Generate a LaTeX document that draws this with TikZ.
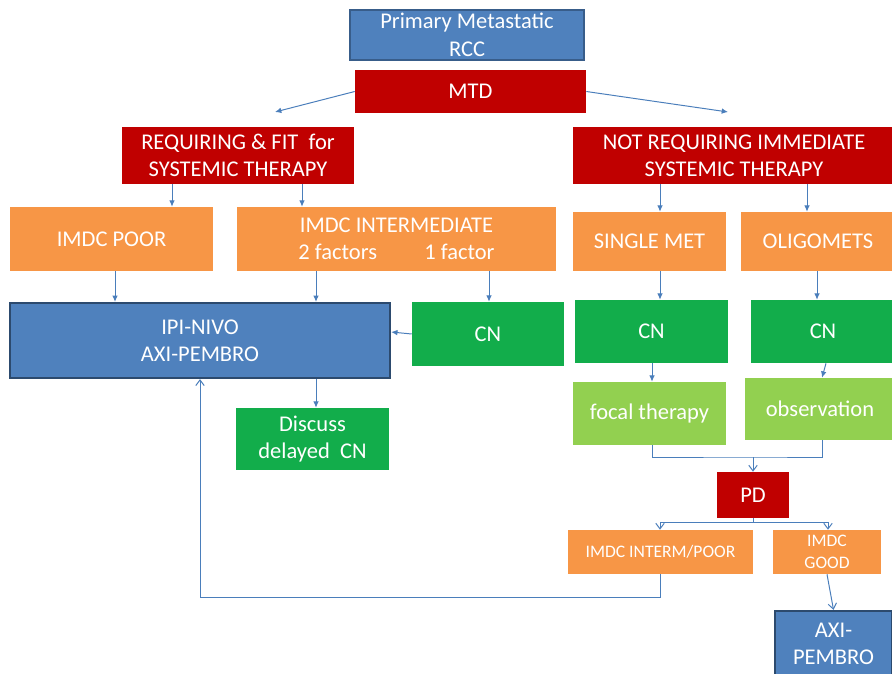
\documentclass[tikz,border=0pt]{standalone}
\usepackage{fontspec}
\setmainfont{Carlito}
\usetikzlibrary{arrows.meta}
\definecolor{boxblue}{HTML}{4F81BD}
\definecolor{edgeblue}{HTML}{385D8A}
\definecolor{darkedge}{HTML}{2C4A6E}
\definecolor{boxred}{HTML}{C00000}
\definecolor{boxorange}{HTML}{F79646}
\definecolor{boxgreen}{HTML}{12AD4B}
\definecolor{boxlime}{HTML}{92D050}
\definecolor{linkblue}{HTML}{4A7EBB}
\newcommand\px{0.025cm}
\tikzset{
  box/.style={text=white, align=center, inner sep=0pt, font=\fontsize{16}{19.5}\selectfont},
  smalltext/.style={font=\fontsize{12.5}{15.5}\selectfont},
  wh/.style 2 args={minimum width=#1*\px, minimum height=#2*\px},
  bluebox/.style={box, fill=boxblue, draw=edgeblue, line width=0.8pt},
  thickblue/.style={box, fill=boxblue, draw=darkedge, line width=1.6pt},
  redbox/.style={box, fill=boxred},
  orangebox/.style={box, fill=boxorange},
  greenbox/.style={box, fill=boxgreen},
  limebox/.style={box, fill=boxlime},
  arr/.style={draw=linkblue, line width=0.7pt, -{Latex[length=4.5pt,width=4pt,fill=linkblue]}},
  openarr/.style={draw=linkblue, line width=0.7pt, -{Straight Barb[length=4pt,width=6pt]}},
  link/.style={draw=linkblue, line width=0.7pt},
}
\begin{document}
\begin{tikzpicture}[x=0.025cm,y=-0.025cm]
  \fill[white] (0,0) rectangle (892,674);
  \useasboundingbox (0,0) rectangle (892,674);
  % top
  \node[bluebox, wh={234}{50}] (prim) at (467,35) {Primary Metastatic\\RCC};
  \node[redbox, wh={231}{43}] (mtd) at (470.5,91.5) {MTD};
  \coordinate (mtdl) at (275,112);
  \coordinate (mtdr) at (728,112);
  \node[redbox, wh={232}{57}] (req) at (238,155.5) {REQUIRING \& FIT\ \ for\\SYSTEMIC THERAPY};
  \node[redbox, wh={322}{57}] (notreq) at (734,155.5) {NOT REQUIRING IMMEDIATE\\SYSTEMIC THERAPY};
  % left branch
  \node[orangebox, wh={203}{64}] (poor) at (111.5,239) {IMDC POOR};
  \node[orangebox, wh={319}{64}] (inter) at (396.5,239) {IMDC INTERMEDIATE\\2 factors\hspace{2.1em}1 factor};
  \node[thickblue, wh={380}{75}] (ipi) at (200,340.5) {IPI-NIVO\\AXI-PEMBRO};
  \node[greenbox, wh={152}{64}] (cnl) at (488,334) {CN};
  \node[greenbox, wh={153}{62}] (disc) at (312.5,439) {Discuss\\delayed\ \ CN};
  % right branch
  \node[orangebox, wh={153}{59}] (single) at (649.5,241.5) {SINGLE MET};
  \node[orangebox, wh={154}{59}] (oligo) at (818,241.5) {OLIGOMETS};
  \node[greenbox, wh={153}{63}] (cns) at (651.5,331.5) {CN};
  \node[greenbox, wh={144}{63}] (cno) at (823,331.5) {CN};
  \node[limebox, wh={153}{63}] (focal) at (649.5,413.5) {focal therapy};
  \node[limebox, wh={150}{62}] (obs) at (820,409) {observation};
  \node[redbox, wh={72}{46}] (pd) at (753,495) {PD};
  \node[orangebox, smalltext, wh={185}{44}] (ip) at (660.5,552) {IMDC INTERM/POOR};
  \node[orangebox, smalltext, wh={108}{44}] (good) at (827,552) {IMDC\\GOOD};
  \node[thickblue, wh={117}{66}] (axi) at (833.5,644) {AXI-\\PEMBRO};
  \coordinate (jn) at (753,457);
  \coordinate (pj) at (753,522);
  \coordinate (fb) at (200,597);
  % connectors
  \draw[arr] (mtd.west) -- (mtdl);
  \draw[arr] (mtd.east) -- (mtdr);
  \draw[arr] (req.south -| 172,0) -- (poor.north -| 172,0);
  \draw[arr] (req.south -| 302,0) -- (inter.north -| 302,0);
  \draw[arr] (poor.south -| 115,0) -- (ipi.north -| 115,0);
  \draw[arr] (inter.south -| 316,0) -- (ipi.north -| 316,0);
  \draw[arr] (inter.south -| 489,0) -- (cnl.north -| 489,0);
  \draw[arr] (cnl.west) -- (ipi.east |- 0,332);
  \draw[arr] (ipi.south -| 316,0) -- (disc.north -| 316,0);
  \draw[arr] (notreq.south -| 660,0) -- (single.north -| 660,0);
  \draw[arr] (notreq.south -| 807,0) -- (oligo.north -| 807,0);
  \draw[arr] (single.south -| 660,0) -- (cns.north -| 660,0);
  \draw[arr] (oligo.south -| 817,0) -- (cno.north -| 817,0);
  \draw[arr] (cns.south -| 652,0) -- (focal.north -| 652,0);
  \draw[arr] (cno.south -| 826,0) -- (obs.north -| 822,0);
  \draw[link] (focal.south -| 652,0) |- (jn) -| (obs.south -| 822,0);
  \draw[openarr] (jn) -- (pd.north);
  \draw[link] (pd.south) -- (pj);
  \draw[openarr] (pj) -| (ip.north -| 660,0);
  \draw[openarr] (pj) -| (good.north -| 828,0);
  \draw[openarr] (ip.south -| 660,0) |- (fb) -- (ipi.south);
  \draw[openarr] (good.south) -- (axi.north);
\end{tikzpicture}
\end{document}
